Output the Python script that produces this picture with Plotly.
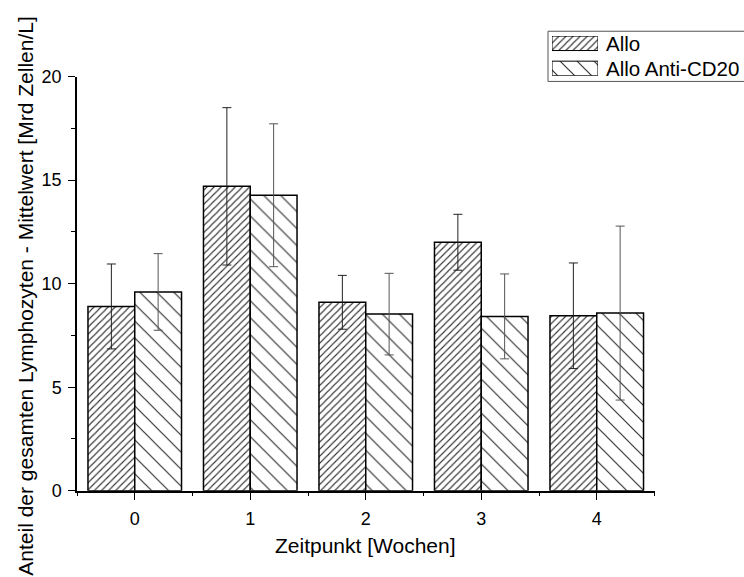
import plotly.graph_objects as go

# Lymphocyte counts per time point (mean ± SD), two treatment groups
weeks = [0, 1, 2, 3, 4]
week_labels = ["0", "1", "2", "3", "4"]
series_names = ["Allo", "Allo Anti-CD20"]
allo_mean = [8.9, 14.7, 9.1, 12.0, 8.45]
allo_sd = [2.05, 3.8, 1.3, 1.35, 2.55]
anti_mean = [9.6, 14.27, 8.53, 8.42, 8.58]
anti_sd = [1.85, 3.45, 1.97, 2.05, 4.2]
y_ticks = [0, 5, 10, 15, 20]

W, H = 744, 577
FONT = "Liberation Sans, Arial, sans-serif"

# plot box in pixels (whole figure is the paper, margins are zero)
PX_L, PX_R, PX_T, PX_B = 77, 654.5, 69, 498


def px_x(p):
    return p / W


def px_y(p):
    return 1 - p / H


styles = [
    dict(shape="/", size=5, solidity=0.22, err="#222222"),
    dict(shape="\\", size=12, solidity=0.1, err="#555555"),
]
means = [allo_mean, anti_mean]
sds = [allo_sd, anti_sd]

fig = go.Figure()
for name, m, s, st in zip(series_names, means, sds, styles):
    fig.add_trace(go.Bar(
        x=weeks, y=m, name=name, showlegend=False,
        marker=dict(color="white",
                    line=dict(color="black", width=1.5),
                    pattern=dict(shape=st["shape"], size=st["size"],
                                 solidity=st["solidity"], fgcolor="#333333",
                                 bgcolor="white", fillmode="replace")),
        error_y=dict(type="data", array=s, visible=True,
                     color=st["err"], thickness=1, width=4.5),
    ))

# legend swatches drawn as small bars on their own axes
for i, (name, st) in enumerate(zip(series_names, styles)):
    fig.add_trace(go.Bar(
        x=[1], y=[i], orientation="h", width=0.577, showlegend=False,
        xaxis="x2", yaxis="y2", hoverinfo="skip",
        marker=dict(color="white",
                    line=dict(color="black", width=1),
                    pattern=dict(shape=st["shape"], size=st["size"],
                                 solidity=st["solidity"], fgcolor="#333333",
                                 bgcolor="white", fillmode="replace")),
    ))

row_centers = [34.5, 60.5]
annotations = []
for name, yc in zip(series_names, row_centers):
    annotations.append(dict(
        text=name, x=px_x(604), y=px_y(yc), xref="paper", yref="paper",
        xanchor="left", yanchor="middle", showarrow=False,
        font=dict(family=FONT, size=20.5, color="black")))

annotations.append(dict(
    text="Zeitpunkt [Wochen]", x=px_x((PX_L + PX_R) / 2), y=px_y(555),
    xref="paper", yref="paper", xanchor="center", yanchor="middle",
    showarrow=False, font=dict(family=FONT, size=21, color="black")))
annotations.append(dict(
    text="Anteil der gesamten Lymphozyten - Mittelwert [Mrd Zellen/L]",
    x=px_x(26), y=px_y(297), xref="paper", yref="paper",
    xanchor="center", yanchor="middle", textangle=-90,
    showarrow=False, font=dict(family=FONT, size=21, color="black")))

fig.update_layout(
    width=W, height=H,
    margin=dict(l=0, r=0, t=0, b=0, pad=0),
    paper_bgcolor="white", plot_bgcolor="white",
    barmode="group", bargap=0.19, bargroupgap=0,
    font=dict(family=FONT, size=18, color="black"),
    xaxis=dict(
        domain=[px_x(PX_L), px_x(PX_R)], range=[-0.5, 4.5],
        tickvals=weeks, ticktext=week_labels,
        ticks="outside", ticklen=8, tickwidth=1.2, tickcolor="black",
        ticklabelstandoff=3,
        showline=True, linecolor="black", linewidth=1.5,
        showgrid=False, zeroline=False,
        minor=dict(tick0=0.5, dtick=1, ticks="outside", ticklen=4,
                   tickwidth=1.2, tickcolor="black", showgrid=False),
        tickfont=dict(family=FONT, size=18),
    ),
    yaxis=dict(
        domain=[px_y(PX_B), px_y(PX_T)], range=[0, 20],
        tickvals=y_ticks,
        ticks="outside", ticklen=7, tickwidth=1.2, tickcolor="black",
        ticklabelstandoff=3,
        showline=True, linecolor="black", linewidth=1.5,
        showgrid=False, zeroline=False,
        minor=dict(tick0=0, dtick=2.5, ticks="outside", ticklen=4,
                   tickwidth=1.2, tickcolor="black", showgrid=False),
        tickfont=dict(family=FONT, size=18),
    ),
    xaxis2=dict(domain=[px_x(552), px_x(598)], range=[0, 1], visible=False,
                anchor="y2"),
    yaxis2=dict(domain=[px_y(68), px_y(27)], range=[1.2885, -0.2885],
                visible=False, anchor="x2"),
    shapes=[dict(type="rect", xref="paper", yref="paper",
                 x0=px_x(548), x1=1.05, y0=px_y(74), y1=px_y(22),
                 line=dict(color="#555555", width=1), fillcolor="rgba(0,0,0,0)",
                 layer="below")],
    annotations=annotations,
)

fig.write_html("out.html")
